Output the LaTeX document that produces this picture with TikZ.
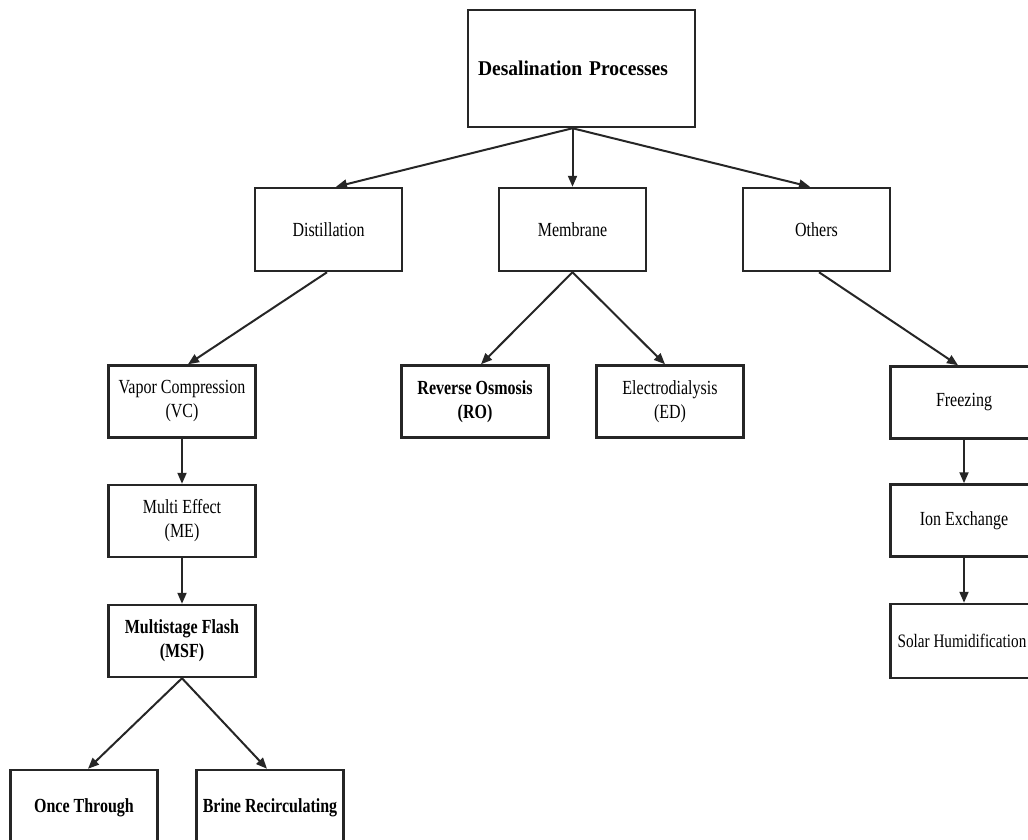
\documentclass[tikz,border=0pt]{standalone}
\usepackage{fontspec}
\setmainfont[FakeStretch=0.8]{Liberation Serif}
\newfontfamily\rootfont[FakeStretch=0.93]{Liberation Serif}
\usetikzlibrary{arrows.meta}

\begin{document}
\begin{tikzpicture}[x=1pt,y=-1pt,>={Triangle[length=11pt,width=9pt]},
  font=\fontsize{20}{24}\selectfont,
  box/.style={draw=black!85,line width=2.5pt,fill=white,minimum width=147pt,
    minimum height=#1,inner sep=0pt,align=center},
  box/.default=72pt,
  link/.style={->,line width=2pt,black!85}]
\useasboundingbox (0,0) rectangle (1028,840);
\clip (0,0) rectangle (1028,840);
% top
\node[box=117pt,minimum width=227pt,text width=207pt,inner xsep=10pt,align=left,
  font=\rootfont\fontsize{21}{25}\selectfont\bfseries] (root) at (581.5,68.5) {Desalination Processes};
% first level
\node[box=83pt] (dist) at (328.5,229.5) {Distillation};
\node[box=83pt] (mem) at (572.5,229.5) {Membrane};
\node[box=83pt] (oth) at (816.5,229.5) {Others};
% distillation branch
\node[box] (vc) at (182,401.5) {Vapor Compression\\(VC)};
\node[box] (me) at (182,521) {Multi Effect\\(ME)};
\node[box,font=\fontsize{20}{24}\selectfont\bfseries] (msf) at (182,641) {Multistage Flash\\(MSF)};
\node[box=76pt,font=\fontsize{20}{24}\selectfont\bfseries] (once) at (84,808) {Once Through};
\node[box=76pt,font=\fontsize{20}{24}\selectfont\bfseries] (brine) at (270,808) {Brine Recirculating};
% membrane branch
\node[box,font=\fontsize{20}{24}\selectfont\bfseries] (ro) at (475,401.5) {Reverse Osmosis\\(RO)};
\node[box] (ed) at (670,401.5) {Electrodialysis\\(ED)};
% others branch
\node[box] (frz) at (964,402.5) {Freezing};
\node[box] (ion) at (964,520.5) {Ion Exchange};
\node[box=74pt,font=\fontsize{19}{23}\selectfont] (sol) at (964,641) {\hspace*{-4pt}Solar Humidification};
% connectors
\draw[link] (root.south -| mem.north) -- ([xshift=7.5pt]dist.north);
\draw[link] (root.south -| mem.north) -- (mem.north);
\draw[link] (root.south -| mem.north) -- ([xshift=-6.5pt]oth.north);
\draw[link] ([xshift=-1.5pt]dist.south) -- ([xshift=6pt]vc.north);
\draw[link] (vc.south) -- (me.north);
\draw[link] (me.south) -- (msf.north);
\draw[link] (msf.south) -- ([xshift=4pt]once.north);
\draw[link] (msf.south) -- ([xshift=-3pt]brine.north);
\draw[link] (mem.south) -- ([xshift=6pt]ro.north);
\draw[link] (mem.south) -- ([xshift=-5pt]ed.north);
\draw[link] ([xshift=2.5pt]oth.south) -- ([xshift=-6pt]frz.north);
\draw[link] (frz.south) -- (ion.north);
\draw[link] (ion.south) -- (sol.north);
\end{tikzpicture}
\end{document}
